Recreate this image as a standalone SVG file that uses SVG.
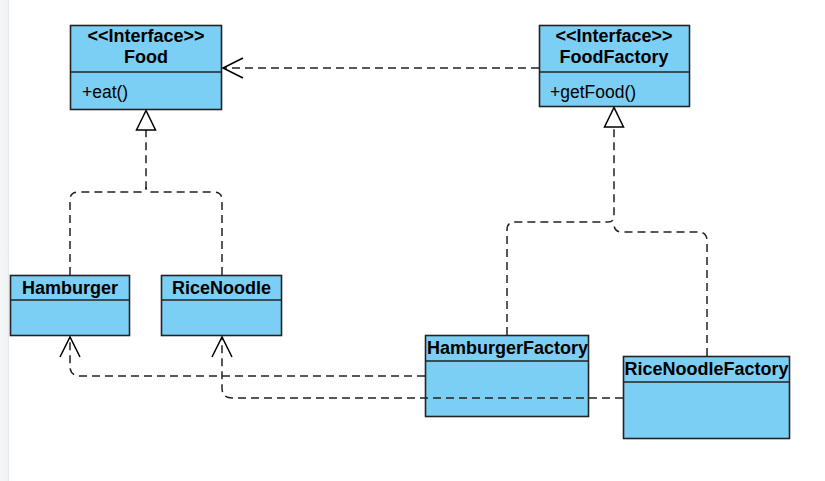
<svg xmlns="http://www.w3.org/2000/svg" width="825" height="481" viewBox="0 0 825 481">
<defs>
<linearGradient id="edge" x1="0" y1="0" x2="1" y2="0">
<stop offset="0" stop-color="#f6f7f9"/>
<stop offset="0.8" stop-color="#f1f2f4"/>
<stop offset="1" stop-color="#e4e5e7"/>
</linearGradient>
<marker id="open" markerWidth="24" markerHeight="24" refX="21" refY="11" orient="auto" markerUnits="userSpaceOnUse" viewBox="0 0 24 22">
<path d="M1,1 L21,11 L1,21" fill="none" stroke="#000" stroke-width="1.5"/>
</marker>
</defs>
<style>
.box{fill:#7ccff4;stroke:#222;stroke-width:1.6}
.sep{stroke:#222;stroke-width:1.6}
.name{font-family:"Liberation Sans",Arial,sans-serif;font-weight:bold;font-size:18px;fill:#000;text-anchor:middle}
.op{font-family:"Liberation Sans",Arial,sans-serif;font-size:17.5px;fill:#000}
.dash{fill:none;stroke:#222;stroke-width:1.5;stroke-dasharray:8 5}
.tri{fill:#fff;stroke:#000;stroke-width:1.5}
.dep{marker-end:url(#open)}
</style>
<rect x="0" y="0" width="825" height="481" fill="#fff"/>
<rect x="0" y="0" width="9" height="481" fill="url(#edge)"/>

<g id="Food">
<rect class="box" x="70.5" y="25.5" width="151" height="84"/>
<line class="sep" x1="70.5" y1="72" x2="221.5" y2="72"/>
<text class="name" x="146" y="42">&lt;&lt;Interface&gt;&gt;</text>
<text class="name" x="146" y="63">Food</text>
<text class="op" x="82" y="98">+eat()</text>
</g>

<g id="FoodFactory">
<rect class="box" x="539.5" y="25.5" width="150" height="81"/>
<line class="sep" x1="539.5" y1="72" x2="689.5" y2="72"/>
<text class="name" x="614" y="42">&lt;&lt;Interface&gt;&gt;</text>
<text class="name" x="614" y="63">FoodFactory</text>
<text class="op" x="550" y="98">+getFood()</text>
</g>

<g id="Hamburger">
<rect class="box" x="10.5" y="275.5" width="119" height="60"/>
<line class="sep" x1="10.5" y1="300" x2="129.5" y2="300"/>
<text class="name" x="70" y="294">Hamburger</text>
</g>

<g id="RiceNoodle">
<rect class="box" x="161.5" y="275.5" width="120" height="60"/>
<line class="sep" x1="161.5" y1="300" x2="281.5" y2="300"/>
<text class="name" x="221.5" y="294">RiceNoodle</text>
</g>

<g id="HamburgerFactory">
<rect class="box" x="425.5" y="335.5" width="163" height="81"/>
<line class="sep" x1="425.5" y1="361" x2="588.5" y2="361"/>
<text class="name" x="507.5" y="354">HamburgerFactory</text>
</g>

<g id="RiceNoodleFactory">
<rect class="box" x="623.5" y="356.5" width="166" height="82"/>
<line class="sep" x1="623.5" y1="382" x2="789.5" y2="382"/>
<text class="name" x="706.5" y="375">RiceNoodleFactory</text>
</g>

<g id="connectors">
<path class="dash dep" d="M539,68 H223"/>
<path class="dash" d="M70,275 V200 Q70,192 78,192 H140 Q146,192 146,187 V130"/>
<path class="dash" d="M222,275 V200 Q222,192 214,192 H152 Q146,192 146,187"/>
<polygon class="tri" points="146,110.5 136.5,130 155.5,130"/>
<path class="dash" d="M507,335 V230 Q507,222 515,222 H608 Q614,222 614,216 V127"/>
<path class="dash" d="M707,356 V241 Q707,232 698,232 H622 Q614,232 614,224"/>
<polygon class="tri" points="614,107.5 604.5,127 623.5,127"/>
<path class="dash dep" d="M425,376 H80 Q70,376 70,366 V337"/>
<path class="dash dep" d="M623,398 H232 Q222,398 222,388 V337"/>
</g>
</svg>
